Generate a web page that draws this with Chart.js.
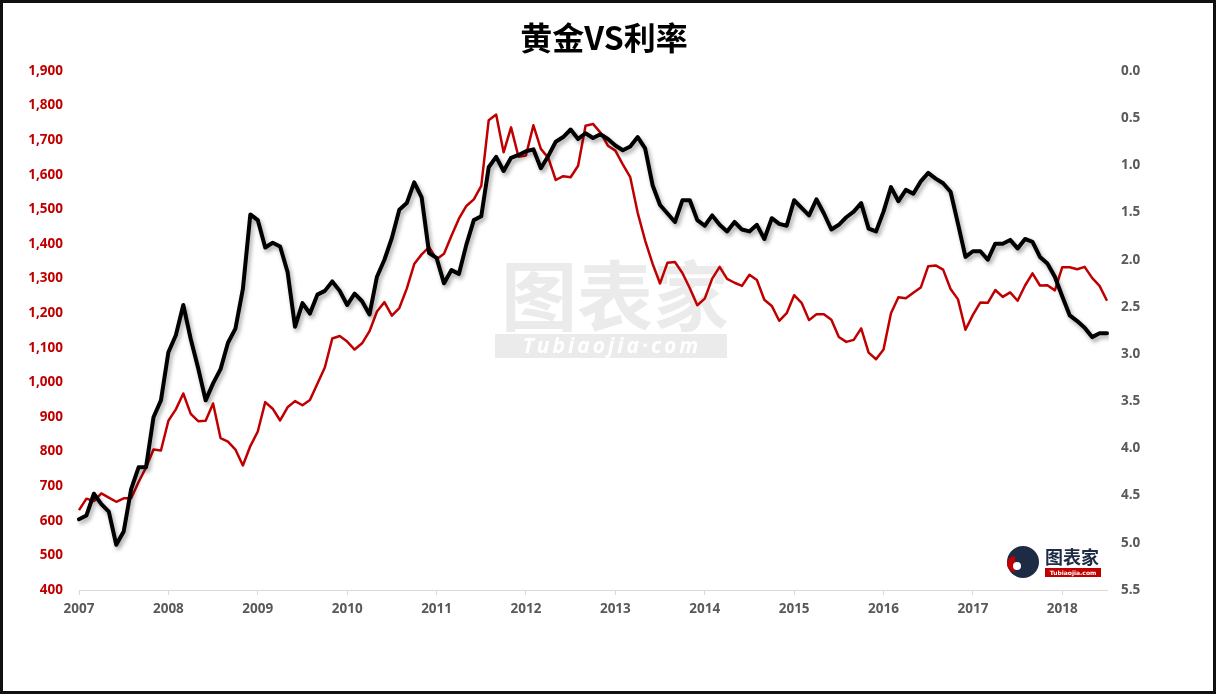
<!DOCTYPE html>
<html>
<head>
<meta charset="utf-8">
<script src="https://cdn.jsdelivr.net/npm/chart.js@4.4.1/dist/chart.umd.min.js"></script>
<style>
    html, body { margin: 0; padding: 0; background: #fff; }
    #wrap  { position: relative; width: 1218px; height: 696px; overflow: hidden; }
    #box   { position: absolute; left: 0; top: 0; width: 1218px; height: 696px; }
    #title { position: absolute; left: 0; top: 13px; width: 1208px; text-align: center;
             font: bold 32px "Noto Sans CJK SC"; color: #000; }
    #frame { position: absolute; left: 0; top: 0; width: 1216px; height: 694px;
             border: 3px solid #111; box-sizing: border-box; pointer-events: none; }
</style>
</head>
<body>
<div id="wrap">
    <div id="box"><canvas id="goldChart"></canvas></div>
    <div id="title">黄金VS利率</div>
    <div id="frame"></div>
</div>
<script>
// ── Datos (mensuales, ene-2007 a jul-2018) ───────────────────────────
const startYear = 2007;
const yearLabels = ['2007','2008','2009','2010','2011','2012','2013','2014','2015','2016','2017','2018'];

// Precio del oro (eje izquierdo)
const goldPrice = [
    631, 664, 657, 679, 667, 655, 665, 665, 712, 754, 806, 803,
    889, 922, 968, 909, 888, 889, 939, 839, 829, 806, 760, 816,
    858, 943, 924, 890, 928, 946, 934, 949, 996, 1043, 1127, 1134,
    1118, 1095, 1113, 1148, 1205, 1232, 1193, 1215, 1271, 1342, 1370, 1391,
    1356, 1372, 1424, 1473, 1510, 1529, 1568, 1758, 1774, 1665, 1737, 1652,
    1656, 1743, 1675, 1649, 1585, 1596, 1593, 1626, 1742, 1747, 1722, 1684,
    1670, 1630, 1593, 1490, 1410, 1343, 1286, 1346, 1348, 1316, 1272, 1223,
    1242, 1300, 1334, 1299, 1288, 1279, 1311, 1296, 1239, 1221, 1178, 1200,
    1252, 1230, 1180, 1197, 1197, 1181, 1131, 1117, 1123, 1156, 1086, 1067,
    1095, 1200, 1246, 1243, 1259, 1274, 1336, 1338, 1326, 1270, 1240, 1152,
    1195, 1231, 1230, 1267, 1247, 1260, 1236, 1280, 1315, 1280, 1281, 1266,
    1333, 1333, 1327, 1334, 1302, 1279, 1236
];

// Rendimiento a 5 años (eje derecho, invertido)
const rate5y = [
    4.75, 4.71, 4.48, 4.59, 4.67, 5.02, 4.88, 4.43, 4.20, 4.20, 3.67, 3.49,
    2.98, 2.80, 2.48, 2.84, 3.15, 3.49, 3.31, 3.16, 2.88, 2.73, 2.31, 1.52,
    1.58, 1.87, 1.82, 1.86, 2.13, 2.71, 2.46, 2.57, 2.37, 2.33, 2.23, 2.33,
    2.48, 2.36, 2.44, 2.58, 2.18, 2.00, 1.77, 1.47, 1.40, 1.18, 1.34, 1.93,
    1.98, 2.25, 2.11, 2.15, 1.84, 1.58, 1.54, 1.02, 0.91, 1.06, 0.92, 0.89,
    0.85, 0.83, 1.03, 0.90, 0.75, 0.70, 0.62, 0.72, 0.66, 0.71, 0.67, 0.72,
    0.79, 0.84, 0.80, 0.70, 0.82, 1.21, 1.42, 1.51, 1.60, 1.37, 1.37, 1.58,
    1.64, 1.53, 1.63, 1.70, 1.60, 1.68, 1.70, 1.63, 1.78, 1.56, 1.62, 1.64,
    1.37, 1.45, 1.53, 1.36, 1.51, 1.68, 1.63, 1.55, 1.49, 1.40, 1.67, 1.70,
    1.49, 1.23, 1.38, 1.26, 1.30, 1.17, 1.08, 1.14, 1.19, 1.28, 1.62, 1.97,
    1.91, 1.91, 2.00, 1.83, 1.83, 1.79, 1.88, 1.78, 1.81, 1.97, 2.04, 2.18,
    2.39, 2.59, 2.65, 2.72, 2.82, 2.78, 2.78
];

const monthLabels = goldPrice.map((_, i) =>
    (startYear + Math.floor(i / 12)) + '-' + String(i % 12 + 1).padStart(2, '0'));

const tickFont = { family: 'Open Sans', size: 13.5, weight: 'bold' };

// Sombra para la línea negra
const shadowPlugin = {
    id: 'lineShadow',
    beforeDatasetDraw(chart, args) {
        if (args.index !== 0) return;
        const ctx = chart.ctx;
        ctx.save();
        ctx.shadowColor = 'rgba(0,0,0,0.35)';
        ctx.shadowBlur = 4;
        ctx.shadowOffsetX = 2;
        ctx.shadowOffsetY = 3;
    },
    afterDatasetDraw(chart, args) {
        if (args.index === 0) chart.ctx.restore();
    }
};

// Marca de agua central + logo abajo a la derecha
const brandPlugin = {
    id: 'brand',
    beforeDatasetsDraw(chart) {
        const ctx = chart.ctx;
        ctx.save();
        ctx.fillStyle = '#ebebeb';
        ctx.font = 'bold 76px "Noto Sans CJK SC"';
        ctx.textAlign = 'center';
        ctx.textBaseline = 'middle';
        ctx.fillText('图表家', 615, 296);
        ctx.fillRect(495, 334, 232, 24);
        ctx.fillStyle = '#fff';
        ctx.font = 'italic bold 21px "Open Sans"';
        if ('letterSpacing' in ctx) ctx.letterSpacing = '3px';
        ctx.fillText('Tubiaojia·com', 612, 347);
        ctx.restore();
    },
    afterDraw(chart) {
        const ctx = chart.ctx;
        ctx.save();
        ctx.fillStyle = '#1d2b45';
        ctx.beginPath();
        ctx.arc(1023, 562, 16, 0, Math.PI * 2);
        ctx.fill();
        ctx.fillStyle = '#c00000';
        ctx.beginPath();
        ctx.arc(1015, 564, 8, Math.PI * 0.5, Math.PI * 1.5);
        ctx.fill();
        ctx.fillStyle = '#fff';
        ctx.beginPath();
        ctx.arc(1017, 566, 4, 0, Math.PI * 2);
        ctx.fill();
        ctx.fillStyle = '#1d2b45';
        ctx.font = 'bold 18px "Noto Sans CJK SC"';
        ctx.textAlign = 'left';
        ctx.textBaseline = 'middle';
        ctx.fillText('图表家', 1045, 557);
        ctx.fillStyle = '#c00000';
        ctx.fillRect(1045, 568, 56, 9);
        ctx.fillStyle = '#fff';
        ctx.font = 'bold 6px "DejaVu Sans"';
        ctx.textAlign = 'center';
        ctx.fillText('Tubiaojia.com', 1073, 573);
        ctx.restore();
    }
};

new Chart(document.getElementById('goldChart'), {
    type: 'line',
    data: {
        labels: monthLabels,
        datasets: [
            {
                label: '利率',
                data: rate5y,
                yAxisID: 'y1',
                borderColor: '#000',
                borderWidth: 4,
                borderJoinStyle: 'round',
                borderCapStyle: 'round',
                pointRadius: 0,
                tension: 0,
                order: 0
            },
            {
                label: '黄金',
                data: goldPrice,
                yAxisID: 'y',
                borderColor: '#c00000',
                borderWidth: 2.5,
                borderJoinStyle: 'round',
                pointRadius: 0,
                tension: 0,
                order: 1
            }
        ]
    },
    options: {
        responsive: true,
        maintainAspectRatio: false,
        animation: false,
        layout: { padding: { top: 71, bottom: 76, left: 0, right: 0 } },
        plugins: {
            legend: { display: false },
            tooltip: { enabled: false }
        },
        scales: {
            x: {
                type: 'category',
                offset: false,
                afterFit: s => { s.height = 30; },
                grid: { drawOnChartArea: false, drawTicks: true, tickLength: 5, color: '#d9d9d9' },
                border: { display: true, color: '#d9d9d9' },
                ticks: {
                    autoSkip: false,
                    maxRotation: 0,
                    padding: 6,
                    color: '#595959',
                    font: tickFont,
                    callback: function (v) {
                        const l = this.getLabelForValue(v);
                        if (!l.endsWith('-01')) return null;
                        return yearLabels.includes(l.slice(0, 4)) ? l.slice(0, 4) : null;
                    }
                }
            },
            y: {
                position: 'left',
                min: 400, max: 1900,
                afterFit: s => { s.width = 79; },
                grid: { display: false, drawTicks: false },
                border: { display: false },
                ticks: {
                    stepSize: 100,
                    padding: 16,
                    color: '#c00000',
                    font: tickFont,
                    callback: v => v.toLocaleString('en-US')
                }
            },
            y1: {
                position: 'right',
                min: 0, max: 5.5,
                reverse: true,
                afterFit: s => { s.width = 111; },
                grid: { display: false, drawTicks: false },
                border: { display: false },
                ticks: {
                    stepSize: 0.5,
                    padding: 14,
                    color: '#595959',
                    font: tickFont,
                    callback: v => v.toFixed(1)
                }
            }
        }
    },
    plugins: [shadowPlugin, brandPlugin]
});
</script>
</body>
</html>
